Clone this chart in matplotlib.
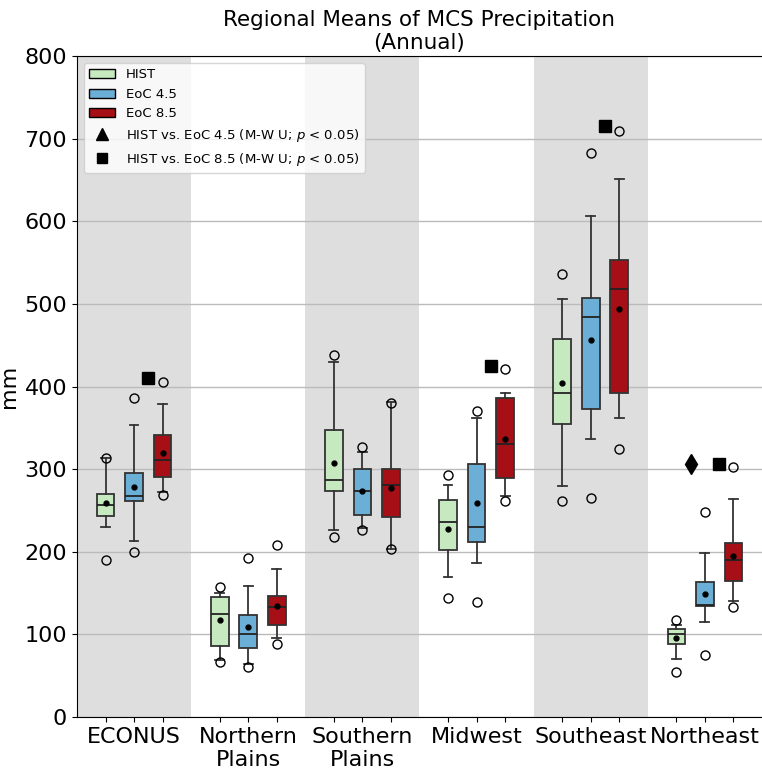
import matplotlib
matplotlib.use('Agg')
import matplotlib.pyplot as plt
from matplotlib.patches import Patch
from matplotlib.lines import Line2D

regions = ['ECONUS', 'Northern\nPlains', 'Southern\nPlains', 'Midwest', 'Southeast', 'Northeast']
scenarios = ['HIST', 'EoC 4.5', 'EoC 8.5']
colors = ['#c7e9c0', '#6baed6', '#a50f15']

# per region: whisker low, q1, median, q3, whisker high, mean
hist_stats = [
    [230, 243, 257, 270, 314, 259],
    [69, 86, 125, 145, 150, 117],
    [227, 274, 287, 347, 430, 307],
    [169, 202, 236, 263, 281, 228],
    [280, 355, 392, 458, 506, 404],
    [70, 89, 100, 107, 111, 96],
]
eoc45_stats = [
    [213, 262, 268, 296, 354, 279],
    [64, 83, 101, 123, 159, 109],
    [229, 245, 274, 300, 321, 274],
    [186, 212, 230, 306, 362, 259],
    [337, 373, 484, 507, 607, 456],
    [115, 134, 136, 164, 198, 149],
]
eoc85_stats = [
    [272, 291, 311, 341, 379, 320],
    [96, 111, 133, 147, 179, 134],
    [203, 242, 281, 300, 381, 277],
    [268, 289, 330, 386, 392, 337],
    [362, 392, 518, 553, 652, 494],
    [141, 165, 190, 211, 264, 195],
]
hist_fliers = [[190, 314], [67, 158], [218, 438], [144, 293], [261, 536], [54, 118]]
eoc45_fliers = [[200, 386], [61, 192], [226, 327], [139, 370], [265, 683], [75, 248]]
eoc85_fliers = [[269, 406], [88, 208], [203, 380], [262, 421], [324, 709], [133, 303]]

# Mann-Whitney U significance vs HIST
sig_45 = [False, False, False, False, False, True]
sig_85 = [True, False, False, True, True, True]

fig = plt.figure(figsize=(7.62, 7.71), dpi=100)
ax = fig.add_axes([0.101, 0.070, 0.899, 0.857])

offsets = [-0.25, 0.0, 0.25]
all_stats = [hist_stats, eoc45_stats, eoc85_stats]
all_fliers = [hist_fliers, eoc45_fliers, eoc85_fliers]

# shade every other region
for i in range(len(regions)):
    if i % 2 == 0:
        ax.axvspan(i - 0.5, i + 0.5, color='#dedede', zorder=0, lw=0)

for j in range(3):
    bstats = []
    for i in range(len(regions)):
        lo, q1, med, q3, hi, mean = all_stats[j][i]
        bstats.append({'whislo': lo, 'q1': q1, 'med': med, 'q3': q3,
                       'whishi': hi, 'mean': mean, 'fliers': all_fliers[j][i]})
    pos = [i + offsets[j] for i in range(len(regions))]
    bp = ax.bxp(bstats, positions=pos, widths=0.155, patch_artist=True,
                showmeans=True,
                boxprops=dict(edgecolor='#333333', linewidth=1.3),
                whiskerprops=dict(color='#333333', linewidth=1.3),
                capprops=dict(color='#333333', linewidth=1.3),
                medianprops=dict(color='#222222', linewidth=1.3),
                meanprops=dict(marker='o', markerfacecolor='k', markeredgecolor='k', markersize=3.5),
                flierprops=dict(marker='o', markerfacecolor='none', markeredgecolor='k', markersize=6.5),
                manage_ticks=False, zorder=3)
    for b in bp['boxes']:
        b.set_facecolor(colors[j])

tick_pos = []
tick_lab = []
for i in range(len(regions)):
    for j in range(3):
        tick_pos.append(i + offsets[j])
        tick_lab.append(regions[i] if j == 1 else '')

# significance markers, just above the highest value in each region
for i in range(len(regions)):
    top = max(max(f[i]) for f in all_fliers)
    top = max(top, max(s[i][4] for s in all_stats)) * 1.01
    if sig_45[i]:
        ax.plot(i - 0.125, top, marker='d', color='k', markersize=10, ls='none', zorder=4)
    if sig_85[i]:
        ax.plot(i + 0.125, top, marker='s', color='k', markersize=8, ls='none', zorder=4)

ax.set_xlim(-0.5, len(regions) - 0.5)
ax.set_ylim(0, 800)
ax.set_xticks(tick_pos)
ax.set_xticklabels(tick_lab, fontsize=16)
ax.set_yticks(range(0, 801, 100))
ax.tick_params(axis='y', labelsize=16)
ax.spines['right'].set_visible(False)
ax.set_axisbelow(True)
ax.yaxis.grid(True, color='#bbbbbb', linewidth=1.0, zorder=0.5)
ax.set_ylabel('mm', fontsize=16)
ax.set_title('Regional Means of MCS Precipitation\n(Annual)', fontsize=15.5, pad=5)

handles = [Patch(facecolor=colors[k], edgecolor='k', label=scenarios[k]) for k in range(3)]
handles.append(Line2D([], [], marker='^', color='k', ls='none', markersize=8,
                      label='HIST vs. EoC 4.5 (M-W U; $p$ < 0.05)'))
handles.append(Line2D([], [], marker='s', color='k', ls='none', markersize=7,
                      label='HIST vs. EoC 8.5 (M-W U; $p$ < 0.05)'))
ax.legend(handles=handles, loc='upper left', fontsize=9.5)

fig.savefig('out.png', dpi=100)
